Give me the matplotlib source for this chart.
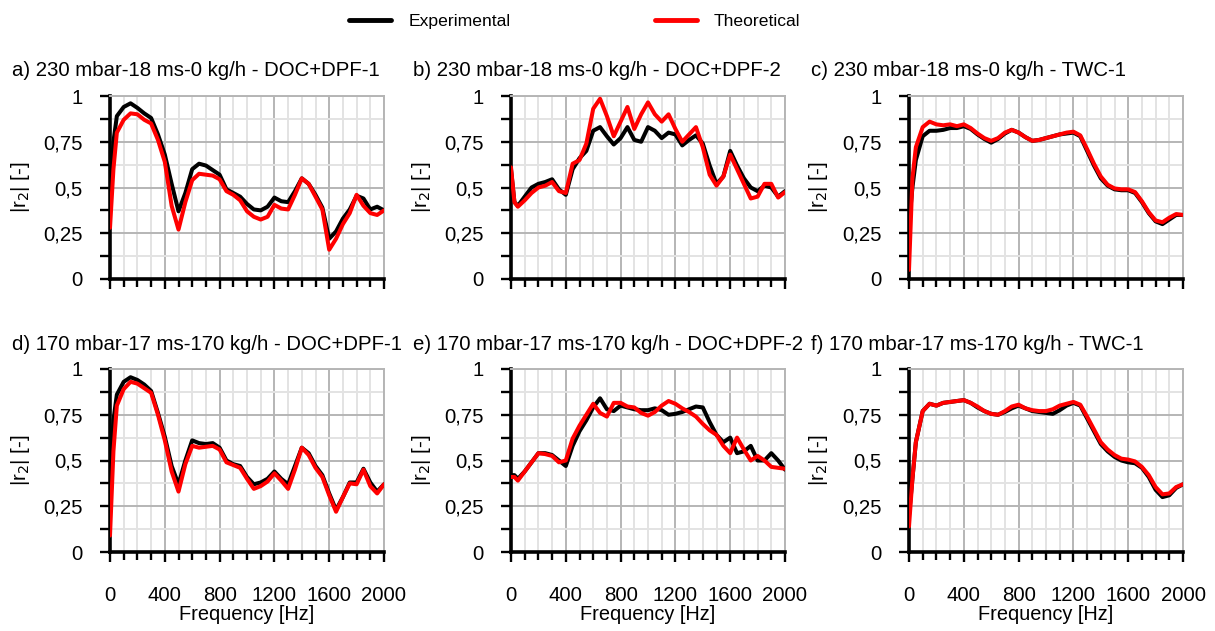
import matplotlib
matplotlib.use("Agg")
import matplotlib.pyplot as plt
from matplotlib.ticker import MultipleLocator, FuncFormatter
from matplotlib.lines import Line2D

plt.rcParams['font.family'] = ['Liberation Sans', 'DejaVu Sans']

freq = [0, 25, 50, 100, 150, 200, 250, 300, 350, 400, 450, 500, 550, 600, 650, 700,
        750, 800, 850, 900, 950, 1000, 1050, 1100, 1150, 1200, 1250, 1300, 1350,
        1400, 1450, 1500, 1550, 1600, 1650, 1700, 1750, 1800, 1850, 1900, 1950, 2000]

exp_a = [0.45, 0.75, 0.89, 0.94, 0.96, 0.935, 0.905, 0.88, 0.79, 0.68, 0.52, 0.37, 0.47, 0.6,
         0.63, 0.62, 0.595, 0.57, 0.49, 0.47, 0.45, 0.41, 0.38, 0.375, 0.395, 0.445, 0.425,
         0.42, 0.48, 0.55, 0.52, 0.46, 0.39, 0.22, 0.26, 0.33, 0.38, 0.455, 0.44, 0.38, 0.395, 0.375]
the_a = [0.28, 0.6, 0.8, 0.87, 0.905, 0.9, 0.87, 0.85, 0.76, 0.64, 0.4, 0.27, 0.42, 0.54,
         0.575, 0.57, 0.565, 0.545, 0.48, 0.46, 0.43, 0.37, 0.34, 0.325, 0.34, 0.405, 0.385,
         0.38, 0.46, 0.55, 0.52, 0.45, 0.38, 0.16, 0.22, 0.3, 0.36, 0.46, 0.4, 0.36, 0.35, 0.375]

exp_b = [0.6, 0.42, 0.4, 0.45, 0.5, 0.52, 0.53, 0.545, 0.49, 0.46, 0.6, 0.66, 0.7, 0.81,
         0.83, 0.78, 0.735, 0.77, 0.83, 0.76, 0.75, 0.83, 0.81, 0.77, 0.8, 0.79, 0.73,
         0.76, 0.785, 0.74, 0.62, 0.52, 0.56, 0.7, 0.62, 0.55, 0.5, 0.48, 0.51, 0.5, 0.45, 0.48]
the_b = [0.61, 0.42, 0.395, 0.43, 0.47, 0.5, 0.51, 0.53, 0.48, 0.47, 0.63, 0.65, 0.74, 0.93,
         0.985, 0.89, 0.78, 0.86, 0.94, 0.82, 0.9, 0.965, 0.9, 0.86, 0.9, 0.82, 0.75,
         0.79, 0.83, 0.72, 0.57, 0.51, 0.56, 0.68, 0.6, 0.52, 0.44, 0.45, 0.52, 0.52, 0.445, 0.475]

exp_c = [0.3, 0.5, 0.65, 0.78, 0.81, 0.81, 0.815, 0.825, 0.825, 0.835, 0.82, 0.79, 0.765, 0.745,
         0.765, 0.795, 0.815, 0.8, 0.775, 0.755, 0.76, 0.77, 0.78, 0.79, 0.795, 0.8, 0.78,
         0.7, 0.62, 0.55, 0.51, 0.49, 0.485, 0.485, 0.47, 0.42, 0.36, 0.315, 0.3, 0.325, 0.35, 0.35]
the_c = [0.05, 0.55, 0.72, 0.83, 0.86, 0.845, 0.84, 0.845, 0.835, 0.845, 0.825, 0.795, 0.77, 0.755,
         0.77, 0.8, 0.815, 0.8, 0.775, 0.755, 0.76, 0.77, 0.78, 0.79, 0.8, 0.805, 0.785,
         0.71, 0.63, 0.56, 0.515, 0.495, 0.49, 0.49, 0.475, 0.425, 0.365, 0.32, 0.31, 0.335, 0.355, 0.35]

exp_d = [0.4, 0.72, 0.86, 0.93, 0.955, 0.94, 0.915, 0.88, 0.76, 0.63, 0.47, 0.37, 0.5, 0.61,
         0.595, 0.59, 0.595, 0.57, 0.5, 0.48, 0.47, 0.41, 0.37, 0.38, 0.4, 0.44, 0.4,
         0.37, 0.47, 0.57, 0.54, 0.47, 0.42, 0.32, 0.23, 0.3, 0.38, 0.38, 0.455, 0.38, 0.33, 0.37]
the_d = [0.09, 0.55, 0.8, 0.89, 0.93, 0.92, 0.895, 0.87, 0.75, 0.61, 0.44, 0.33, 0.48, 0.58,
         0.57, 0.575, 0.58, 0.56, 0.49, 0.475, 0.46, 0.4, 0.345, 0.36, 0.385, 0.43, 0.39,
         0.345, 0.45, 0.57, 0.53, 0.46, 0.41, 0.31, 0.22, 0.3, 0.375, 0.37, 0.45, 0.36, 0.32, 0.37]

exp_e = [0.42, 0.42, 0.4, 0.44, 0.49, 0.54, 0.54, 0.53, 0.5, 0.47, 0.58, 0.66, 0.72, 0.79,
         0.84, 0.78, 0.77, 0.8, 0.79, 0.78, 0.775, 0.775, 0.785, 0.775, 0.75, 0.755, 0.765,
         0.78, 0.795, 0.79, 0.71, 0.64, 0.6, 0.625, 0.54, 0.55, 0.58, 0.5, 0.5, 0.54, 0.5, 0.45]
the_e = [0.41, 0.41, 0.39, 0.44, 0.49, 0.54, 0.535, 0.525, 0.49, 0.5, 0.62, 0.69, 0.75, 0.81,
         0.76, 0.74, 0.815, 0.815, 0.795, 0.79, 0.76, 0.745, 0.765, 0.8, 0.825, 0.81, 0.785,
         0.765, 0.74, 0.7, 0.665, 0.64, 0.58, 0.54, 0.625, 0.56, 0.5, 0.525, 0.5, 0.465, 0.46, 0.455]

exp_f = [0.2, 0.4, 0.6, 0.77, 0.81, 0.8, 0.815, 0.82, 0.825, 0.83, 0.815, 0.79, 0.77, 0.755,
         0.75, 0.765, 0.785, 0.8, 0.785, 0.77, 0.765, 0.76, 0.755, 0.775, 0.8, 0.815, 0.8,
         0.73, 0.66, 0.59, 0.55, 0.52, 0.5, 0.49, 0.485, 0.46, 0.41, 0.34, 0.3, 0.31, 0.35, 0.37]
the_f = [0.14, 0.4, 0.6, 0.77, 0.81, 0.8, 0.815, 0.82, 0.825, 0.83, 0.815, 0.795, 0.77, 0.755,
         0.75, 0.77, 0.795, 0.805, 0.785, 0.775, 0.77, 0.77, 0.78, 0.8, 0.81, 0.82, 0.805,
         0.74, 0.67, 0.6, 0.56, 0.53, 0.51, 0.505, 0.495, 0.465, 0.42, 0.355, 0.315, 0.32, 0.355, 0.37]

titles = ["a) 230 mbar-18 ms-0 kg/h - DOC+DPF-1",
          "b) 230 mbar-18 ms-0 kg/h - DOC+DPF-2",
          "c) 230 mbar-18 ms-0 kg/h - TWC-1",
          "d) 170 mbar-17 ms-170 kg/h - DOC+DPF-1",
          "e) 170 mbar-17 ms-170 kg/h - DOC+DPF-2",
          "f) 170 mbar-17 ms-170 kg/h - TWC-1"]
exp_series = [exp_a, exp_b, exp_c, exp_d, exp_e, exp_f]
the_series = [the_a, the_b, the_c, the_d, the_e, the_f]
series_labels = ["Experimental", "Theoretical"]
ylabel = "|r$_2$| [-]"
xlabel = "Frequency [Hz]"

W, H = 1215, 631
fig = plt.figure(figsize=(W / 100, H / 100), dpi=100)

lefts = [110, 511, 909]
tops = [96, 369]
aw, ah = 274, 183
FS = 14.7

def fmt_y(v, pos):
    return ("%g" % v).replace(".", ",")

for i in range(6):
    r, c = divmod(i, 3)
    l = lefts[c]
    t = tops[r]
    ax = fig.add_axes([l / W, 1 - (t + ah) / H, aw / W, ah / H])
    ax.set_xlim(0, 2000)
    ax.set_ylim(0, 1)
    ax.xaxis.set_major_locator(MultipleLocator(400))
    ax.xaxis.set_minor_locator(MultipleLocator(100))
    ax.yaxis.set_major_locator(MultipleLocator(0.25))
    ax.yaxis.set_minor_locator(MultipleLocator(0.125))
    ax.grid(which='minor', color='#e3e3e3', lw=1.4, zorder=0)
    ax.grid(which='major', color='#b5b5b5', lw=1.4, zorder=0)
    ax.set_axisbelow(True)
    for sp in ['top', 'right']:
        ax.spines[sp].set_color('#b5b5b5')
        ax.spines[sp].set_linewidth(1.4)
    for sp in ['left', 'bottom']:
        ax.spines[sp].set_color('black')
        ax.spines[sp].set_linewidth(2.6)
    ax.tick_params(which='both', direction='out', width=1.7, color='black')
    ax.tick_params(axis='y', which='both', length=7.5, pad=12, labelsize=FS)
    ax.tick_params(axis='x', which='major', length=7.5, pad=17, labelsize=FS)
    ax.tick_params(axis='x', which='minor', length=5.5)
    ax.yaxis.set_major_formatter(FuncFormatter(fmt_y))
    if r == 0:
        ax.tick_params(axis='x', labelbottom=False)
    else:
        ax.text(0.5, -(63) / ah, xlabel, transform=ax.transAxes, ha='center', va='center', fontsize=14.4)
    ax.plot(freq, exp_series[i], color='black', lw=2.9, zorder=3,
            solid_capstyle='round', solid_joinstyle='round')
    ax.plot(freq, the_series[i], color='#ff0000', lw=2.9, zorder=4,
            solid_capstyle='round', solid_joinstyle='round')
    ax.text(-90 / aw, 0.5, ylabel, transform=ax.transAxes, rotation=90, ha='center', va='center', fontsize=FS)
    fig.text((l - 98) / W, 1 - (t - 25) / H, titles[i], ha='left', va='center', fontsize=FS)

handles = [Line2D([], [], color='black', lw=3.5, solid_capstyle='round'),
           Line2D([], [], color='#ff0000', lw=3.5, solid_capstyle='round')]
fig.legend(handles, series_labels, loc='center', bbox_to_anchor=(575 / W, 1 - 21 / H), ncol=2,
           frameon=False, fontsize=12.6, handlelength=2.4, columnspacing=8.2, handletextpad=1.0)

fig.savefig("out.png", dpi=100)
